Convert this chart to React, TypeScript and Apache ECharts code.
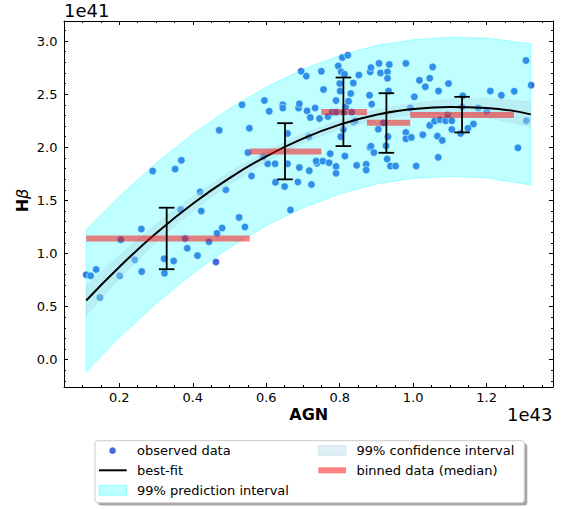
import React, { useEffect, useRef } from 'react';
import * as echarts from 'echarts';

const obsX = [
  0.11, 0.122, 0.137, 0.147, 0.201, 0.204, 0.242, 0.26, 0.261, 0.291,
  0.322, 0.323, 0.348, 0.352, 0.367, 0.369, 0.379, 0.385, 0.413, 0.42,
  0.423, 0.444, 0.463, 0.466, 0.472, 0.48, 0.49, 0.526, 0.534, 0.542,
  0.55, 0.554, 0.56, 0.592, 0.595, 0.604, 0.608, 0.624, 0.625, 0.645,
  0.645, 0.65, 0.658, 0.658, 0.666, 0.686, 0.688, 0.69, 0.69, 0.695,
  0.709, 0.711, 0.716, 0.717, 0.72, 0.723, 0.733, 0.738, 0.736, 0.745,
  0.75, 0.754, 0.756, 0.768, 0.771, 0.774, 0.779, 0.79, 0.79, 0.79,
  0.79, 0.796, 0.8, 0.801, 0.803, 0.804, 0.807, 0.81, 0.811, 0.813,
  0.814, 0.816, 0.822, 0.824, 0.83, 0.833, 0.837, 0.838, 0.842, 0.846,
  0.852, 0.872, 0.872, 0.881, 0.882, 0.885, 0.883, 0.885, 0.887, 0.893,
  0.905, 0.907, 0.911, 0.919, 0.926, 0.929, 0.93, 0.93, 0.931, 0.933,
  0.935, 0.938, 0.952, 0.98, 0.98, 0.98, 0.992, 0.995, 1.003, 1.008,
  1.017, 1.026, 1.033, 1.045, 1.045, 1.053, 1.058, 1.066, 1.068, 1.069,
  1.073, 1.079, 1.088, 1.094, 1.096, 1.105, 1.105, 1.129, 1.133, 1.135,
  1.149, 1.164, 1.177, 1.2, 1.21, 1.24, 1.275, 1.285, 1.307, 1.308, 1.321,
];
const obsY = [
  0.8, 0.79, 0.85, 0.585, 0.79, 1.13, 0.94, 1.23, 0.83, 1.776,
  0.95, 0.815, 0.93, 1.795, 1.415, 1.877, 1.14, 1.05, 0.98, 1.58,
  1.4, 1.11, 0.92, 1.19, 2.16, 1.24, 1.6, 1.34, 2.4, 1.25,
  1.95, 2.18, 1.73, 1.91, 2.44, 1.845, 2.34, 1.845, 1.67, 2.4,
  2.37, 1.63, 2.13, 1.845, 1.41, 1.673, 2.37, 2.41, 1.81, 2.716,
  2.67, 2.343, 2.1, 1.78, 2.28, 1.65, 2.37, 1.85, 1.87, 2.27,
  2.716, 1.87, 2.544, 2.29, 1.855, 1.94, 2.33, 2.44, 1.82, 1.755,
  2.33, 2.766, 2.6, 2.53, 2.1, 2.71, 2.845, 2.168, 2.33, 2.688,
  1.917, 2.38, 2.867, 2.434, 2.507, 2.33, 2.606, 2.237, 2.25, 1.83,
  2.68, 1.84, 1.786, 2.49, 2.0, 2.01, 2.71, 2.75, 2.406, 1.95,
  2.17, 2.79, 2.7, 2.23, 2.014, 1.889, 2.71, 2.65, 2.1, 2.53,
  2.78, 1.823, 1.823, 2.79, 2.14, 2.08, 2.37, 2.093, 2.475, 1.823,
  2.63, 2.118, 2.57, 2.65, 2.206, 2.757, 2.246, 2.105, 1.905, 2.53,
  2.26, 2.065, 2.25, 2.306, 2.6, 2.25, 2.168, 2.13, 2.38, 2.485,
  2.18, 2.22, 2.37, 2.337, 2.53, 2.49, 2.528, 1.995, 2.817, 2.25, 2.585,
];

// ---- best fit and intervals ----
const curveX = [0.11, 0.2, 0.3, 0.4, 0.5, 0.6, 0.7, 0.8, 0.9, 1.0, 1.1, 1.2, 1.32];
const fitY = [0.557, 0.873, 1.19, 1.469, 1.71, 1.915, 2.082, 2.213, 2.306, 2.36, 2.38, 2.37, 2.31];
const piUpper = [1.227, 1.538, 1.85, 2.126, 2.365, 2.568, 2.734, 2.865, 2.958, 3.013, 3.035, 3.028, 2.975];
const piLower = [-0.113, 0.208, 0.53, 0.812, 1.055, 1.262, 1.43, 1.561, 1.654, 1.707, 1.725, 1.712, 1.645];
const ciUpper = [0.697, 0.983, 1.275, 1.539, 1.768, 1.965, 2.127, 2.257, 2.353, 2.415, 2.45, 2.46, 2.43];
const ciLower = [0.417, 0.763, 1.105, 1.399, 1.652, 1.865, 2.037, 2.169, 2.259, 2.305, 2.31, 2.28, 2.19];

// ---- binned medians ----
const binStart = [0.11, 0.556, 0.75, 0.874, 0.992];
const binEnd = [0.555, 0.75, 0.874, 0.992, 1.274];
const binMedian = [1.14, 1.96, 2.333, 2.23, 2.305];

// ---- error bars ----
const errX = [0.329, 0.651, 0.81, 0.927, 1.133];
const errLow = [0.852, 1.698, 2.011, 1.948, 2.14];
const errHigh = [1.431, 2.227, 2.657, 2.509, 2.475];

// ---- ticks ----
const xMajor = [0.2, 0.4, 0.6, 0.8, 1.0, 1.2];
const xMinor = [0.1, 0.15, 0.25, 0.3, 0.35, 0.45, 0.5, 0.55, 0.65, 0.7, 0.75, 0.85, 0.9, 0.95, 1.05, 1.1, 1.15, 1.25, 1.3, 1.35];
const yMajor = [0, 0.5, 1.0, 1.5, 2.0, 2.5, 3.0];
const yMinor = [-0.2, -0.1, 0.1, 0.2, 0.3, 0.4, 0.6, 0.7, 0.8, 0.9, 1.1, 1.2, 1.3, 1.4, 1.6, 1.7, 1.8, 1.9, 2.1, 2.2, 2.3, 2.4, 2.6, 2.7, 2.8, 2.9, 3.1];

const X_MIN = 0.0495;
const X_MAX = 1.3805;
const Y_MIN = -0.257;
const Y_MAX = 3.189;

const FONT = '"DejaVu Sans", sans-serif';

function makeX(position: 'top' | 'bottom', ticks: number[], len: number, labels: boolean, line: boolean) {
  return {
    type: 'value',
    position,
    min: X_MIN,
    max: X_MAX,
    axisLine: { show: line, onZero: false, lineStyle: { color: '#000', width: 1 } },
    axisTick: { show: true, inside: true, length: len, customValues: ticks, lineStyle: { color: '#000', width: 1 } },
    axisLabel: {
      show: labels,
      customValues: ticks,
      formatter: (v: number) => v.toFixed(1),
      fontSize: 13,
      fontFamily: FONT,
      color: '#000',
      margin: 4,
    },
    splitLine: { show: false },
    minorTick: { show: false },
  };
}

function makeY(position: 'left' | 'right', ticks: number[], len: number, labels: boolean, line: boolean) {
  return {
    type: 'value',
    position,
    min: Y_MIN,
    max: Y_MAX,
    axisLine: { show: line, onZero: false, lineStyle: { color: '#000', width: 1 } },
    axisTick: { show: true, inside: true, length: len, customValues: ticks, lineStyle: { color: '#000', width: 1 } },
    axisLabel: {
      show: labels,
      customValues: ticks,
      formatter: (v: number) => v.toFixed(1),
      fontSize: 13,
      fontFamily: FONT,
      color: '#000',
      margin: 6.5,
    },
    splitLine: { show: false },
    minorTick: { show: false },
  };
}

function bandSeries(upper: number[], lower: number[], fill: string, stroke: string, z: number) {
  return {
    type: 'custom',
    z,
    data: [[curveX[0], upper[0]]],
    encode: { x: 0, y: 1 },
    silent: true,
    renderItem: (params: any, api: any) => {
      const top = curveX.map((x, i) => api.coord([x, upper[i]]));
      const bot = curveX.map((x, i) => api.coord([x, lower[i]])).reverse();
      return {
        type: 'polygon',
        shape: { points: top.concat(bot) },
        style: { fill, stroke, lineWidth: 1 },
      };
    },
  };
}

export default function App() {
  const ref = useRef<HTMLDivElement>(null);

  useEffect(() => {
    document.body.style.margin = '0';
    const chart = echarts.init(ref.current!, null, { renderer: 'svg' });

    const pairs = (xs: number[], ys: number[]) => xs.map((x, i) => [x, ys[i]]);

    const legendRow1 = 450.7;
    const legendRow2 = 470.3;
    const legendRow3 = 490;
    const textStyle = (text: string) => ({
      text,
      fontSize: 13,
      fontFamily: FONT,
      fill: '#000',
      align: 'left',
      verticalAlign: 'middle',
    });

    const option: any = {
      animation: false,
      grid: { left: 64, right: 21, top: 21, bottom: 122, containLabel: false, outerBoundsMode: 'none' },
      xAxis: [
        makeX('bottom', xMajor, 4, true, true),
        makeX('top', xMajor, 4, false, true),
        makeX('bottom', xMinor, 2, false, false),
        makeX('top', xMinor, 2, false, false),
      ],
      yAxis: [
        makeY('left', yMajor, 4, true, true),
        makeY('right', yMajor, 4, false, true),
        makeY('left', yMinor, 2, false, false),
        makeY('right', yMinor, 2, false, false),
      ],
      series: [
        {
          type: 'scatter',
          z: 1,
          data: pairs(obsX, obsY),
          symbolSize: 7.5,
          itemStyle: { color: '#4169e1', borderColor: '#ffffff', borderWidth: 0.6, opacity: 1 },
          silent: true,
        },
        bandSeries(piUpper, piLower, 'rgba(0,255,255,0.25)', 'rgba(0,255,255,0.3)', 2),
        bandSeries(ciUpper, ciLower, 'rgba(173,216,230,0.4)', 'rgba(173,216,230,0.3)', 3),
        {
          type: 'line',
          z: 4,
          data: pairs(curveX, fitY),
          smooth: true,
          showSymbol: false,
          lineStyle: { color: '#000', width: 2 },
          silent: true,
        },
        {
          type: 'custom',
          z: 5,
          data: binStart.map((x, i) => [x, binEnd[i], binMedian[i]]),
          encode: { x: [0, 1], y: 2 },
          silent: true,
          renderItem: (params: any, api: any) => {
            const p0 = api.coord([api.value(0), api.value(2)]);
            const p1 = api.coord([api.value(1), api.value(2)]);
            return {
              type: 'line',
              shape: { x1: p0[0], y1: p0[1], x2: p1[0], y2: p1[1] },
              style: { stroke: 'rgba(255,0,0,0.5)', lineWidth: 6, lineCap: 'butt' },
            };
          },
        },
        {
          type: 'custom',
          z: 6,
          data: errX.map((x, i) => [x, errLow[i], errHigh[i]]),
          encode: { x: 0, y: [1, 2] },
          silent: true,
          renderItem: (params: any, api: any) => {
            const lo = api.coord([api.value(0), api.value(1)]);
            const hi = api.coord([api.value(0), api.value(2)]);
            const cap = 7.8;
            const st = { stroke: '#000', lineWidth: 1.8 };
            return {
              type: 'group',
              children: [
                { type: 'line', shape: { x1: lo[0], y1: lo[1], x2: hi[0], y2: hi[1] }, style: st },
                { type: 'line', shape: { x1: lo[0] - cap, y1: lo[1], x2: lo[0] + cap, y2: lo[1] }, style: st },
                { type: 'line', shape: { x1: hi[0] - cap, y1: hi[1], x2: hi[0] + cap, y2: hi[1] }, style: st },
              ],
            };
          },
        },
      ],
      graphic: [
        {
          type: 'text', x: 64, y: 10.5,
          style: { text: '1e41', fontSize: 18, fontFamily: FONT, fill: '#000', align: 'left', verticalAlign: 'middle' },
        },
        {
          type: 'text', x: 552.5, y: 414,
          style: { text: '1e43', fontSize: 18, fontFamily: FONT, fill: '#000', align: 'right', verticalAlign: 'middle' },
        },
        {
          type: 'text', x: 308.7, y: 414,
          style: { text: 'AGN', fontSize: 16, fontWeight: 'bold', fontFamily: FONT, fill: '#000', align: 'center', verticalAlign: 'middle' },
        },
        {
          type: 'text', x: 22.5, y: 200.5, rotation: Math.PI / 2,
          style: {
            text: '{h|H}{b|β}',
            fill: '#000',
            align: 'center',
            verticalAlign: 'middle',
            rich: {
              h: { fontSize: 16, fontWeight: 'bold', fontFamily: FONT, fill: '#000' },
              b: { fontSize: 16, fontStyle: 'italic', fontFamily: FONT, fill: '#000' },
            },
          },
        },
        { type: 'rect', shape: { x: 98, y: 443.5, width: 429.3, height: 62, r: 3 }, style: { fill: 'rgba(0,0,0,0.35)' } },
        { type: 'rect', shape: { x: 95, y: 440.7, width: 429.3, height: 62, r: 3 }, style: { fill: '#ffffff', stroke: '#cccccc', lineWidth: 1 } },
        { type: 'circle', shape: { cx: 112.6, cy: legendRow1, r: 3.3 }, style: { fill: '#4169e1' } },
        { type: 'line', shape: { x1: 99, y1: legendRow2, x2: 126.7, y2: legendRow2 }, style: { stroke: '#000', lineWidth: 2 } },
        { type: 'rect', shape: { x: 99, y: 485.3, width: 27.7, height: 9.8 }, style: { fill: '#bfffff', stroke: 'rgba(0,255,255,0.4)', lineWidth: 1 } },
        { type: 'rect', shape: { x: 318.3, y: 445.6, width: 27.7, height: 9.8 }, style: { fill: '#deeff5', stroke: 'rgba(173,216,230,0.4)', lineWidth: 1 } },
        { type: 'rect', shape: { x: 318.3, y: 467.3, width: 27.7, height: 6 }, style: { fill: '#ff8080' } },
        { type: 'text', x: 137, y: legendRow1, style: textStyle('observed data') },
        { type: 'text', x: 137, y: legendRow2, style: textStyle('best-fit') },
        { type: 'text', x: 137, y: legendRow3, style: textStyle('99% prediction interval') },
        { type: 'text', x: 356.5, y: legendRow1, style: textStyle('99% confidence interval') },
        { type: 'text', x: 356.5, y: legendRow2, style: textStyle('binned data (median)') },
      ],
    };

    chart.setOption(option);
    return () => chart.dispose();
  }, []);

  return <div ref={ref} style={{ width: 574, height: 509 }} />;
}
